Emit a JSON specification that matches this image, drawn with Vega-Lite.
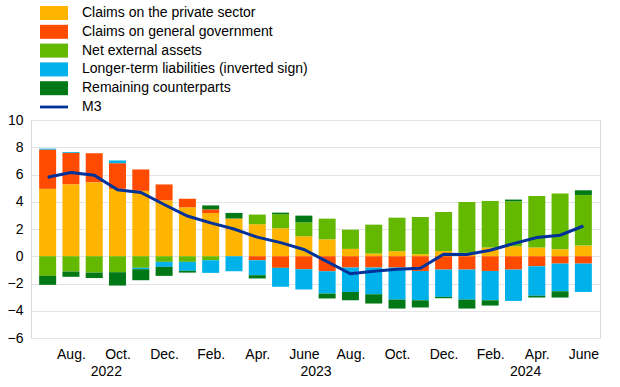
{
  "$schema": "https://vega.github.io/schema/vega-lite/v6.json",
  "autosize": {"type": "none"},
  "padding": {"left": 31, "top": 120, "right": 20, "bottom": 49},
  "width": 569,
  "height": 218,
  "config": {
    "font": "Liberation Sans",
    "view": {"stroke": "#dadada", "strokeWidth": 1},
    "axis": {"labelFont": "Liberation Sans", "labelFontSize": 14, "labelColor": "#000000"},
    "axisY": {"labelOverlap": false}
  },
  "data": {
    "values": [
      {"i": 1, "Claims on the private sector": 4.95, "Claims on general government": 2.88, "Net external assets": -1.44, "Longer-term liabilities (inverted sign)": 0.07, "Remaining counterparts": -0.66, "M3": 5.8},
      {"i": 2, "Claims on the private sector": 5.29, "Claims on general government": 2.30, "Net external assets": -1.12, "Longer-term liabilities (inverted sign)": 0.06, "Remaining counterparts": -0.39, "M3": 6.15},
      {"i": 3, "Claims on the private sector": 5.44, "Claims on general government": 2.12, "Net external assets": -1.20, "Longer-term liabilities (inverted sign)": 0.0, "Remaining counterparts": -0.40, "M3": 5.95},
      {"i": 4, "Claims on the private sector": 4.95, "Claims on general government": 1.88, "Net external assets": -1.17, "Longer-term liabilities (inverted sign)": 0.20, "Remaining counterparts": -0.98, "M3": 4.88},
      {"i": 5, "Claims on the private sector": 4.80, "Claims on general government": 1.57, "Net external assets": -0.85, "Longer-term liabilities (inverted sign)": -0.10, "Remaining counterparts": -0.81, "M3": 4.68},
      {"i": 6, "Claims on the private sector": 4.10, "Claims on general government": 1.17, "Net external assets": -0.41, "Longer-term liabilities (inverted sign)": -0.37, "Remaining counterparts": -0.66, "M3": 3.8},
      {"i": 7, "Claims on the private sector": 3.59, "Claims on general government": 0.63, "Net external assets": -0.41, "Longer-term liabilities (inverted sign)": -0.66, "Remaining counterparts": -0.13, "M3": 2.95},
      {"i": 8, "Claims on the private sector": 3.17, "Claims on general government": 0.27, "Net external assets": -0.29, "Longer-term liabilities (inverted sign)": -0.93, "Remaining counterparts": 0.29, "M3": 2.45},
      {"i": 9, "Claims on the private sector": 2.77, "Claims on general government": 0.0, "Net external assets": 0.0, "Longer-term liabilities (inverted sign)": -1.10, "Remaining counterparts": 0.41, "M3": 2.0},
      {"i": 10, "Claims on the private sector": 2.35, "Claims on general government": -0.29, "Net external assets": 0.71, "Longer-term liabilities (inverted sign)": -1.10, "Remaining counterparts": -0.24, "M3": 1.4},
      {"i": 11, "Claims on the private sector": 2.05, "Claims on general government": -0.85, "Net external assets": 1.03, "Longer-term liabilities (inverted sign)": -1.39, "Remaining counterparts": 0.12, "M3": 1.0},
      {"i": 12, "Claims on the private sector": 1.47, "Claims on general government": -0.95, "Net external assets": 1.02, "Longer-term liabilities (inverted sign)": -1.49, "Remaining counterparts": 0.49, "M3": 0.5},
      {"i": 13, "Claims on the private sector": 1.24, "Claims on general government": -1.10, "Net external assets": 1.52, "Longer-term liabilities (inverted sign)": -1.64, "Remaining counterparts": -0.36, "M3": -0.4},
      {"i": 14, "Claims on the private sector": 0.54, "Claims on general government": -0.83, "Net external assets": 1.41, "Longer-term liabilities (inverted sign)": -1.79, "Remaining counterparts": -0.61, "M3": -1.29},
      {"i": 15, "Claims on the private sector": 0.20, "Claims on general government": -0.83, "Net external assets": 2.12, "Longer-term liabilities (inverted sign)": -1.96, "Remaining counterparts": -0.68, "M3": -1.1},
      {"i": 16, "Claims on the private sector": 0.37, "Claims on general government": -0.83, "Net external assets": 2.46, "Longer-term liabilities (inverted sign)": -2.35, "Remaining counterparts": -0.66, "M3": -0.95},
      {"i": 17, "Claims on the private sector": 0.15, "Claims on general government": -1.08, "Net external assets": 2.73, "Longer-term liabilities (inverted sign)": -2.15, "Remaining counterparts": -0.53, "M3": -0.88},
      {"i": 18, "Claims on the private sector": 0.38, "Claims on general government": -0.98, "Net external assets": 2.87, "Longer-term liabilities (inverted sign)": -2.00, "Remaining counterparts": -0.10, "M3": 0.15},
      {"i": 19, "Claims on the private sector": 0.25, "Claims on general government": -0.98, "Net external assets": 3.73, "Longer-term liabilities (inverted sign)": -2.20, "Remaining counterparts": -0.66, "M3": 0.13},
      {"i": 20, "Claims on the private sector": 0.64, "Claims on general government": -1.08, "Net external assets": 3.42, "Longer-term liabilities (inverted sign)": -2.15, "Remaining counterparts": -0.39, "M3": 0.44},
      {"i": 21, "Claims on the private sector": 0.73, "Claims on general government": -0.98, "Net external assets": 3.30, "Longer-term liabilities (inverted sign)": -2.30, "Remaining counterparts": 0.13, "M3": 0.93},
      {"i": 22, "Claims on the private sector": 0.64, "Claims on general government": -0.73, "Net external assets": 3.78, "Longer-term liabilities (inverted sign)": -2.16, "Remaining counterparts": -0.14, "M3": 1.37},
      {"i": 23, "Claims on the private sector": 0.51, "Claims on general government": -0.54, "Net external assets": 4.09, "Longer-term liabilities (inverted sign)": -2.03, "Remaining counterparts": -0.46, "M3": 1.54},
      {"i": 24, "Claims on the private sector": 0.78, "Claims on general government": -0.54, "Net external assets": 3.72, "Longer-term liabilities (inverted sign)": -2.08, "Remaining counterparts": 0.34, "M3": 2.22}
    ]
  },
  "encoding": {
    "x": {
      "field": "i", "type": "quantitative",
      "scale": {"domain": [0.5, 24.5], "nice": false, "zero": false},
      "axis": {
        "title": null, "grid": false, "domain": false, "ticks": false,
        "labelPadding": 9, "labelLineHeight": 17, "labelOverlap": false, "labelFlush": false, "labelBound": false,
        "values": [2, 3.5, 4, 6, 8, 10, 12, 12.5, 14, 16, 18, 20, 21.5, 22, 24],
        "labelExpr": "datum.value % 1 != 0 ? ['', datum.value < 6 ? '2022' : (datum.value < 18 ? '2023' : '2024')] : ['Jan.','Feb.','Mar.','Apr.','May','June','July','Aug.','Sep.','Oct.','Nov.','Dec.'][(datum.value + 5) % 12]"
      }
    }
  },
  "layer": [
    {
      "transform": [
        {"fold": ["Claims on the private sector", "Claims on general government", "Net external assets", "Longer-term liabilities (inverted sign)", "Remaining counterparts"], "as": ["series", "value"]}
      ],
      "mark": {"type": "bar", "size": 17},
      "encoding": {
        "y": {
          "field": "value", "type": "quantitative", "stack": "zero",
          "scale": {"domain": [-6, 10], "nice": false},
          "axis": {"title": null, "values": [-6, -4, -2, 0, 2, 4, 6, 8, 10], "labelOverlap": false, "domain": false, "ticks": false, "labelPadding": 8, "gridColor": "#e4e4e4", "gridWidth": 1}
        },
        "color": {
          "field": "series", "type": "nominal",
          "sort": ["Claims on the private sector", "Claims on general government", "Net external assets", "Longer-term liabilities (inverted sign)", "Remaining counterparts"],
          "scale": {
            "domain": ["Claims on the private sector", "Claims on general government", "Net external assets", "Longer-term liabilities (inverted sign)", "Remaining counterparts", "M3"],
            "range": ["#ffb400", "#ff4b00", "#65b800", "#00b1ea", "#007816", "#003299"]
          },
          "legend": {
            "title": null, "orient": "none", "legendX": 16, "legendY": -114,
            "padding": 0, "rowPadding": 4.8, "labelFontSize": 14, "labelFont": "Liberation Sans", "labelColor": "#000000",
            "symbolType": "M-2,-1H2V1H-2Z", "symbolSize": 196, "symbolStrokeWidth": 0, "symbolOpacity": 1, "labelOffset": 21, "labelLimit": 400,
            "encode": {"symbols": {"update": {"shape": [{"test": "datum.value === 'M3'", "value": "M-2,-0.2H2V0.2H-2Z"}, {"value": "M-2,-1H2V1H-2Z"}]}}}
          }
        },
        "order": {"field": "series_order", "type": "quantitative"}
      }
    },
    {
      "mark": {"type": "line", "color": "#003299", "strokeWidth": 3},
      "encoding": {
        "y": {"field": "M3", "type": "quantitative", "axis": {"title": null, "values": [-6, -4, -2, 0, 2, 4, 6, 8, 10], "labelOverlap": false, "domain": false, "ticks": false, "labelPadding": 8, "gridColor": "#e4e4e4", "gridWidth": 1}}
      }
    }
  ]
}
